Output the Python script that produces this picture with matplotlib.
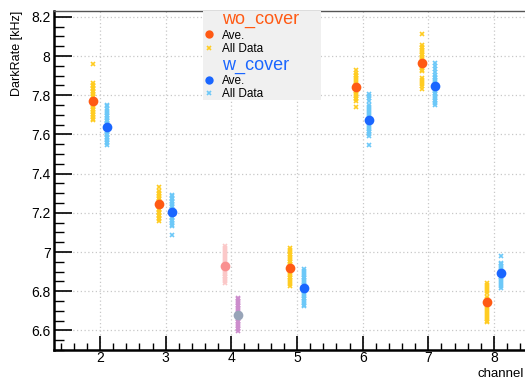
import matplotlib
matplotlib.use('Agg')
import matplotlib.pyplot as plt
from matplotlib.lines import Line2D
from matplotlib.ticker import MultipleLocator

plt.rcParams['font.family'] = ['Liberation Sans', 'DejaVu Sans']

# data
channels = [2, 3, 4, 5, 6, 7, 8]
wo_ave = [7.773, 7.246, 6.928, 6.919, 7.840, 7.967, 6.746]
w_ave = [7.638, 7.203, 6.680, 6.816, 7.675, 7.845, 6.894]

wo_all = [
    [7.959, 7.862, 7.853, 7.845, 7.838, 7.830, 7.822, 7.815, 7.806, 7.798, 7.790, 7.782, 7.774,
     7.766, 7.758, 7.750, 7.741, 7.732, 7.724, 7.715, 7.706, 7.697, 7.688, 7.680, 7.675],
    [7.332, 7.310, 7.302, 7.294, 7.286, 7.278, 7.270, 7.262, 7.254, 7.246, 7.238, 7.230, 7.222,
     7.214, 7.206, 7.198, 7.190, 7.182, 7.174, 7.166, 7.158],
    [7.030, 7.020, 7.010, 7.000, 6.990, 6.980, 6.970, 6.960, 6.950, 6.940, 6.930, 6.920, 6.910,
     6.900, 6.890, 6.880, 6.870, 6.860, 6.850, 6.843],
    [7.022, 7.010, 7.001, 6.992, 6.983, 6.974, 6.965, 6.956, 6.947, 6.938, 6.929, 6.920, 6.911,
     6.902, 6.893, 6.884, 6.875, 6.866, 6.857, 6.848, 6.839, 6.828],
    [7.930, 7.915, 7.905, 7.896, 7.887, 7.878, 7.869, 7.860, 7.851, 7.842, 7.833, 7.824, 7.815,
     7.806, 7.797, 7.788, 7.779, 7.770, 7.740],
    [8.113, 8.057, 8.048, 8.039, 8.030, 8.021, 8.012, 8.003, 7.994, 7.985, 7.976, 7.967, 7.958,
     7.949, 7.940, 7.931, 7.922, 7.890, 7.880, 7.870, 7.858, 7.845, 7.832],
    [6.843, 6.833, 6.823, 6.813, 6.803, 6.792, 6.770, 6.760, 6.750, 6.740, 6.730, 6.720, 6.710,
     6.700, 6.690, 6.680, 6.670, 6.660, 6.650, 6.642],
]
w_all = [
    [7.752, 7.745, 7.730, 7.718, 7.708, 7.700, 7.692, 7.684, 7.676, 7.668, 7.660, 7.652, 7.644,
     7.636, 7.628, 7.620, 7.612, 7.604, 7.596, 7.588, 7.580, 7.572, 7.564, 7.556, 7.548],
    [7.293, 7.285, 7.277, 7.269, 7.261, 7.253, 7.245, 7.237, 7.229, 7.221, 7.213, 7.205, 7.197,
     7.189, 7.181, 7.173, 7.165, 7.157, 7.149, 7.140, 7.132, 7.086],
    [6.767, 6.758, 6.749, 6.740, 6.731, 6.722, 6.713, 6.704, 6.695, 6.686, 6.677, 6.668, 6.659,
     6.650, 6.641, 6.632, 6.623, 6.614, 6.605, 6.597],
    [6.911, 6.902, 6.893, 6.884, 6.875, 6.866, 6.857, 6.848, 6.839, 6.830, 6.821, 6.812, 6.803,
     6.794, 6.785, 6.776, 6.767, 6.758, 6.749, 6.740, 6.731, 6.724],
    [7.808, 7.796, 7.784, 7.772, 7.750, 7.740, 7.730, 7.720, 7.710, 7.700, 7.690, 7.680, 7.670,
     7.660, 7.650, 7.640, 7.630, 7.620, 7.610, 7.600, 7.590, 7.548],
    [7.964, 7.950, 7.935, 7.920, 7.904, 7.895, 7.886, 7.877, 7.868, 7.859, 7.850, 7.841, 7.832,
     7.823, 7.814, 7.805, 7.796, 7.787, 7.778, 7.769, 7.760, 7.752],
    [6.979, 6.946, 6.937, 6.928, 6.919, 6.910, 6.901, 6.892, 6.883, 6.874, 6.865, 6.856, 6.847,
     6.838, 6.829, 6.818],
]

# colours per channel (channel 4 drawn differently)
wo_ave_col = ['#ff5a14', '#ff5a14', '#f99090', '#ff5a14', '#ff5a14', '#ff5a14', '#ff5a14']
wo_all_col = ['#ffcc22', '#ffcc22', '#fbc8c8', '#ffcc22', '#ffcc22', '#ffcc22', '#ffcc22']
w_ave_col = ['#1a66ff', '#1a66ff', '#98a4b8', '#1a66ff', '#1a66ff', '#1a66ff', '#1a66ff']
w_all_col = ['#6cc8f8', '#6cc8f8', '#cc8ccc', '#6cc8f8', '#6cc8f8', '#6cc8f8', '#6cc8f8']

fig = plt.figure(figsize=(5.25, 3.81), dpi=100)
W, H = 525, 381
left, right, top, bottom = 54, 540, 11, 350
ax = fig.add_axes([left / W, (H - bottom) / H, (right - left) / W, (bottom - top) / H])

off = 0.1
for i, ch in enumerate(channels):
    ax.plot([ch - off] * len(wo_all[i]), wo_all[i], linestyle='none', marker='x',
            ms=3.5, mew=1.2, color=wo_all_col[i], zorder=3)
    ax.plot([ch + off] * len(w_all[i]), w_all[i], linestyle='none', marker='x',
            ms=3.5, mew=1.2, color=w_all_col[i], zorder=3)
    ax.plot(ch - off, wo_ave[i], linestyle='none', marker='o', ms=7, mew=0,
            color=wo_ave_col[i], zorder=4)
    ax.plot(ch + off, w_ave[i], linestyle='none', marker='o', ms=7, mew=0,
            color=w_ave_col[i], zorder=4)

ax.set_xlim(1.3, 8.7)
ax.set_ylim(6.5, 8.23)
ax.xaxis.set_major_locator(MultipleLocator(1))
ax.xaxis.set_minor_locator(MultipleLocator(0.2))
ax.yaxis.set_minor_locator(MultipleLocator(0.05))
ax.set_yticks([6.6, 6.8, 7.0, 7.2, 7.4, 7.6, 7.8, 8.0, 8.2])
ax.set_yticklabels(['6.6', '6.8', '7', '7.2', '7.4', '7.6', '7.8', '8', '8.2'])

ax.grid(True, which='major', linestyle=(0, (1, 2)), color='#c8c8c8', linewidth=0.9)
ax.set_axisbelow(True)
ax.tick_params(which='major', direction='in', length=10, width=1.2, labelsize=10, pad=2.5,
               top=False, right=False)
ax.tick_params(axis='x', which='major', pad=0.5)
ax.tick_params(axis='y', which='major', length=13)
ax.tick_params(which='minor', direction='in', length=5, width=1.0, top=False, right=False)
ax.tick_params(axis='y', which='minor', length=7)
for s in ['left', 'bottom']:
    ax.spines[s].set_linewidth(1.8)
    ax.spines[s].set_color('black')
ax.spines['top'].set_linewidth(1.0)
ax.spines['top'].set_color('#555555')
ax.spines['right'].set_visible(False)

ax.set_ylabel('DarkRate [kHz]', fontsize=9, loc='top', labelpad=6)
fig.text(478 / W, (H - 374) / H, 'channel', fontsize=9.5, va='center', ha='left')

# legend
blank = Line2D([], [], linestyle='none')
h_wo_ave = Line2D([], [], linestyle='none', marker='o', ms=6, mew=0, color='#ff5a14')
h_wo_all = Line2D([], [], linestyle='none', marker='x', ms=3.5, mew=1.2, color='#ffcc22')
h_w_ave = Line2D([], [], linestyle='none', marker='o', ms=6, mew=0, color='#1a66ff')
h_w_all = Line2D([], [], linestyle='none', marker='x', ms=3.5, mew=1.2, color='#6cc8f8')
leg = ax.legend([blank, h_wo_ave, h_wo_all, blank, h_w_ave, h_w_all],
                ['wo_cover', 'Ave.', 'All Data', 'w_cover', 'Ave.', 'All Data'],
                loc='upper left', bbox_to_anchor=(203 / W, (H - 95) / H, 118 / W, 84 / H),
                bbox_transform=fig.transFigure, mode='expand', fontsize=8.5,
                frameon=True, fancybox=False, facecolor='#f0f0f0', edgecolor='none',
                framealpha=1, handlelength=1.0, handletextpad=0.6, labelspacing=0.12,
                borderpad=0.0, borderaxespad=0)
texts = leg.get_texts()
texts[0].set_color('#ff5a14')
texts[0].set_fontsize(13)
texts[3].set_color('#1a66ff')
texts[3].set_fontsize(13)

fig.savefig('out.png', dpi=100)
